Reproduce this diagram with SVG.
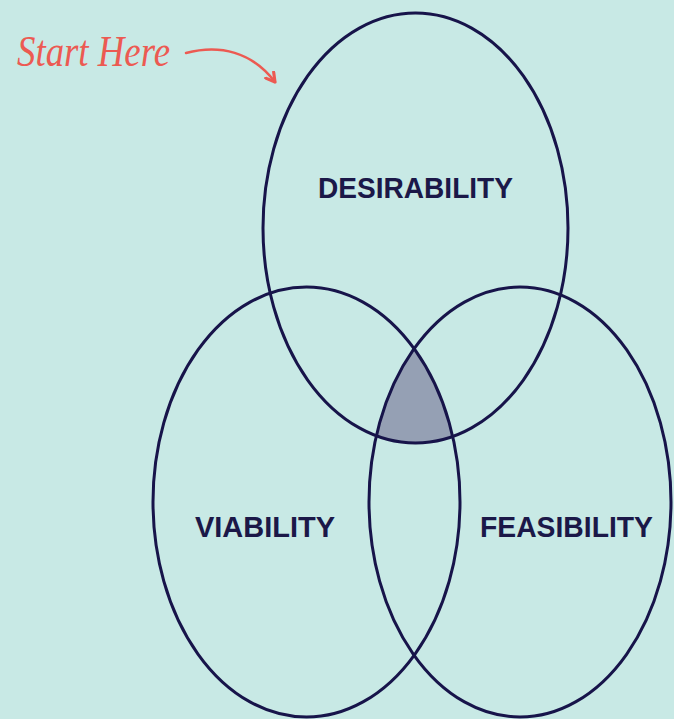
<svg xmlns="http://www.w3.org/2000/svg" width="674" height="719" viewBox="0 0 674 719">
<style>
.ring{fill:none;stroke:#17144a;stroke-width:3}
.lbl{font-family:"Liberation Sans",Arial,sans-serif;font-weight:bold;font-size:30px;fill:#1b1848;text-anchor:middle}
.note{font-family:"Liberation Serif","Times New Roman",serif;font-style:italic;font-size:44px;fill:#ec5a52}
.arrow{fill:none;stroke:#ec5a52;stroke-width:2.5;stroke-linecap:round;stroke-linejoin:round}
</style>
<defs>
<clipPath id="clipL"><ellipse cx="306.5" cy="502" rx="153.5" ry="215"/></clipPath>
<clipPath id="clipR"><ellipse cx="520" cy="502" rx="151" ry="215"/></clipPath>
<marker id="head" viewBox="0 0 10 10" refX="8" refY="5" markerWidth="5" markerHeight="5" orient="auto" markerUnits="strokeWidth">
<path d="M1,1 L8,5 L1,9" class="arrow" stroke-width="2"/>
</marker>
</defs>
<rect width="674" height="719" fill="#c8e9e5"/>
<g id="overlap" clip-path="url(#clipR)">
<ellipse cx="415.5" cy="228" rx="152.5" ry="215" fill="#95a0b4" clip-path="url(#clipL)"/>
</g>
<g id="desirability">
<ellipse class="ring" cx="415.5" cy="228" rx="152.5" ry="215"/>
<text class="lbl" x="415.5" y="198" textLength="195" lengthAdjust="spacingAndGlyphs">DESIRABILITY</text>
</g>
<g id="viability">
<ellipse class="ring" cx="306.5" cy="502" rx="153.5" ry="215"/>
<text class="lbl" x="265" y="537" textLength="140" lengthAdjust="spacingAndGlyphs">VIABILITY</text>
</g>
<g id="feasibility">
<ellipse class="ring" cx="520" cy="502" rx="151" ry="215"/>
<text class="lbl" x="566.5" y="537" textLength="173" lengthAdjust="spacingAndGlyphs">FEASIBILITY</text>
</g>
<g id="start-here">
<text class="note" x="17" y="66" textLength="153" lengthAdjust="spacingAndGlyphs">Start Here</text>
</g>
<g id="connectors">
<path class="arrow" d="M186,53 C220,44 252,52 275,82" marker-end="url(#head)"/>
</g>
</svg>
